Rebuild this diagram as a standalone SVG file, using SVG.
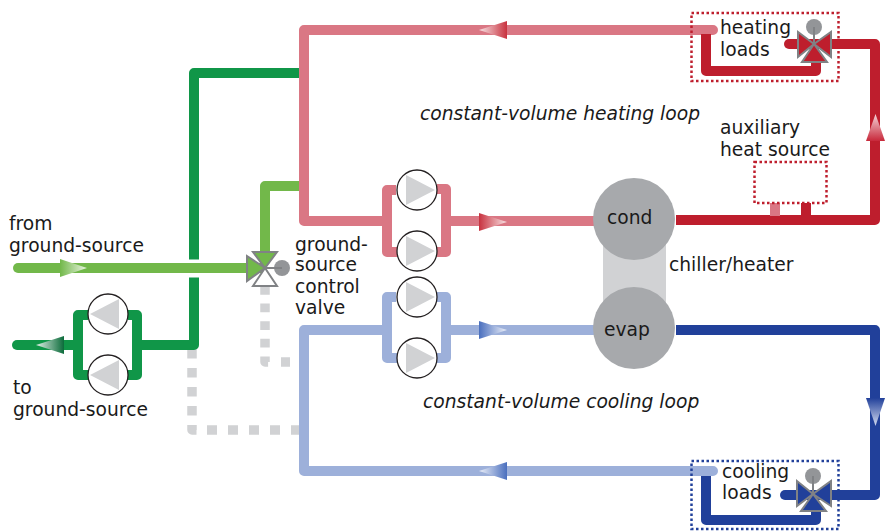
<svg xmlns="http://www.w3.org/2000/svg" width="886" height="531" viewBox="0 0 886 531">
<style>
text{font-family:"DejaVu Sans",Verdana,sans-serif;font-size:18.7px;fill:#1a1a1a}
.i{font-style:italic}
.p{fill:none;stroke-width:10;stroke-linejoin:round;stroke-linecap:butt}
.r{stroke-linecap:round}
.hot{stroke:#be1e2d}.pink{stroke:#da7784}.navy{stroke:#21409a}.sky{stroke:#9db0da}.dg{stroke:#109648}.lg{stroke:#72b84a}
.ctl{fill:none;stroke:#d1d2d4;stroke-width:9.500;stroke-linejoin:round}
.box{fill:none;stroke-width:2.500;stroke-dasharray:2.500 2.500}
.pc{fill:#fff;stroke:#231f20;stroke-width:1.300}
.pt{fill:#d1d2d4}
.v{stroke:#808285;stroke-width:2;stroke-linejoin:miter}
.act{fill:#939598}
.st{stroke:#808285;stroke-width:2;fill:none}
</style>
<defs>
<linearGradient id="gPinkL" x1="1" x2="0" y1="0" y2="0"><stop offset="0" stop-color="#c8323f"/><stop offset="1" stop-color="#f8e4e6"/></linearGradient>
<linearGradient id="gPinkR" x1="0" x2="1" y1="0" y2="0"><stop offset="0" stop-color="#c8323f"/><stop offset="1" stop-color="#f8e4e6"/></linearGradient>
<linearGradient id="gRedU" x1="0" x2="0" y1="1" y2="0"><stop offset="0" stop-color="#c8283a"/><stop offset="1" stop-color="#f4d5d9"/></linearGradient>
<linearGradient id="gNavyD" x1="0" x2="0" y1="0" y2="1"><stop offset="0" stop-color="#21409a"/><stop offset="1" stop-color="#d5dcf0"/></linearGradient>
<linearGradient id="gSkyR" x1="0" x2="1" y1="0" y2="0"><stop offset="0" stop-color="#4a6fbe"/><stop offset="1" stop-color="#eef1f9"/></linearGradient>
<linearGradient id="gSkyL" x1="1" x2="0" y1="0" y2="0"><stop offset="0" stop-color="#4a6fbe"/><stop offset="1" stop-color="#eef1f9"/></linearGradient>
<linearGradient id="gLg" x1="0" x2="1" y1="0" y2="0"><stop offset="0" stop-color="#72b84a"/><stop offset="1" stop-color="#eaf4e2"/></linearGradient>
<linearGradient id="gDg" x1="1" x2="0" y1="0" y2="0"><stop offset="0" stop-color="#0b6b3a"/><stop offset="1" stop-color="#e3f1e8"/></linearGradient>
</defs>

<g id="chiller-body"><rect x="603" y="219" width="63" height="109" fill="#d1d2d4"/></g>

<g id="connectors">
<path class="ctl" stroke-dasharray="8.700 8.900" d="M265 286V362H270"/>
<path class="ctl" d="M281 362H290"/>
<path class="ctl" stroke-dasharray="9.500 9.500" d="M192 349V430H197"/>
<path class="ctl" stroke-dasharray="10 11" d="M207 430H300"/>
<path class="p dg" d="M300 73H194V345H137"/>
<path class="p dg" d="M78 345H40"/>
<path class="p dg r" d="M40 345H17"/>
<path class="p dg" d="M88 315H78V375H88M128 315H137V375H128"/>
<path d="M180 268.500H210" stroke="#fff" stroke-width="18" fill="none"/>
<path class="p lg r" d="M18 268H262"/>
<path class="p lg" d="M300 186H265V262"/>
<path class="p pink r" d="M713 30H304V221H387"/>
<path class="p pink" d="M396 190H387V252H397M437 189H446V252H437M446 221H594"/>
<path class="p sky r" d="M713 471H304V330H387"/>
<path class="p sky" d="M396 297H387V358H397M437 297H446V358H437M446 330H594"/>
<path class="p hot" d="M676 220H875V44H815"/>
<path class="p hot r" d="M815 44H789"/>
<path class="p hot" d="M706 34V71H816V58"/>
<path class="p navy" d="M676 330H875V495H813"/>
<path class="p navy r" d="M813 495H785"/>
<path class="p navy" d="M706 476V520H816V505"/>
<path class="p" stroke="#da7784" d="M775 203V216"/>
<path class="p hot" d="M806 203V216"/>
<polygon points="507,21 507,39 479,30" fill="url(#gPinkL)"/>
<polygon points="479,213 479,231 507,222" fill="url(#gPinkR)"/>
<polygon points="479,321 479,339 507,330" fill="url(#gSkyR)"/>
<polygon points="507,462 507,480 479,471" fill="url(#gSkyL)"/>
<polygon points="866,141 885,141 875.500,114" fill="url(#gRedU)"/>
<polygon points="866,398 885,398 875.500,426" fill="url(#gNavyD)"/>
<polygon points="60,259 60,277 87,268" fill="url(#gLg)"/>
<polygon points="64,336 64,354 36,345" fill="url(#gDg)"/>
</g>

<g id="heating-loads">
<rect class="box" x="691.500" y="13" width="147" height="68" stroke="#be1e2d"/>
<text x="720" y="34">heating</text><text x="720" y="56">loads</text>
</g>
<g id="heating-valve">
<circle class="act" cx="814" cy="27" r="8"/>
<polygon class="v" fill="#be1e2d" points="798,32 798,57 814,44"/>
<polygon class="v" fill="#be1e2d" points="831,32 831,57 814,44"/>
<polygon class="v" fill="#be1e2d" points="814,44 802,62 827,62"/>
<path class="st" d="M814 44V27"/>
</g>
<g id="cooling-loads">
<rect class="box" x="691.500" y="461" width="147" height="68" stroke="#21409a"/>
<text x="722" y="478">cooling</text><text x="722" y="499">loads</text>
</g>
<g id="cooling-valve">
<circle class="act" cx="813" cy="476" r="8"/>
<polygon class="v" fill="#21409a" points="797,481 797,506 813,494"/>
<polygon class="v" fill="#21409a" points="831,481 831,506 813,494"/>
<polygon class="v" fill="#21409a" points="813,494 801,511 826,511"/>
<path class="st" d="M813 494V476"/>
</g>
<g id="aux-source">
<rect class="box" x="754.500" y="162" width="72" height="41" stroke="#be1e2d"/>
<text x="720" y="134">auxiliary</text><text x="720" y="156">heat source</text>
</g>
<g id="cond"><circle cx="634" cy="219" r="41" fill="#a7a9ac"/><text x="607" y="224">cond</text></g>
<g id="evap"><circle cx="634" cy="328" r="41" fill="#a7a9ac"/><text x="604" y="336">evap</text></g>
<g id="chiller-label"><text x="669" y="271">chiller/heater</text></g>

<g id="pump-h1"><circle class="pc" cx="417" cy="190" r="20"/><polygon class="pt" points="406,175 406,205 435,190"/></g>
<g id="pump-h2"><circle class="pc" cx="417" cy="251" r="20"/><polygon class="pt" points="406,236 406,266 435,251"/></g>
<g id="pump-c1"><circle class="pc" cx="417" cy="297" r="20"/><polygon class="pt" points="406,282 406,312 435,297"/></g>
<g id="pump-c2"><circle class="pc" cx="417" cy="358" r="20"/><polygon class="pt" points="406,343 406,373 435,358"/></g>
<g id="pump-g1"><circle class="pc" cx="108" cy="314" r="20"/><polygon class="pt" points="119,299 119,329 90,314"/></g>
<g id="pump-g2"><circle class="pc" cx="108" cy="375" r="20"/><polygon class="pt" points="119,360 119,390 90,375"/></g>

<g id="ground-valve">
<circle class="act" cx="282" cy="268" r="8"/>
<polygon class="v" fill="#72b84a" points="247,256 247,281 265,268"/>
<polygon class="v" fill="#72b84a" points="253,252 277,252 265,268"/>
<polygon class="v" fill="#fff" points="253,286 277,286 265,268"/>
<path class="st" d="M265 268H282"/>
</g>
<g id="labels">
<text x="9" y="230">from</text><text x="9" y="252">ground-source</text>
<text x="13" y="394">to</text><text x="13" y="416">ground-source</text>
<text x="295" y="251">ground-</text><text x="295" y="271">source</text><text x="295" y="293">control</text><text x="295" y="314">valve</text>
<text class="i" x="420" y="120">constant-volume heating loop</text>
<text class="i" x="423" y="408">constant-volume cooling loop</text>
</g>
</svg>
